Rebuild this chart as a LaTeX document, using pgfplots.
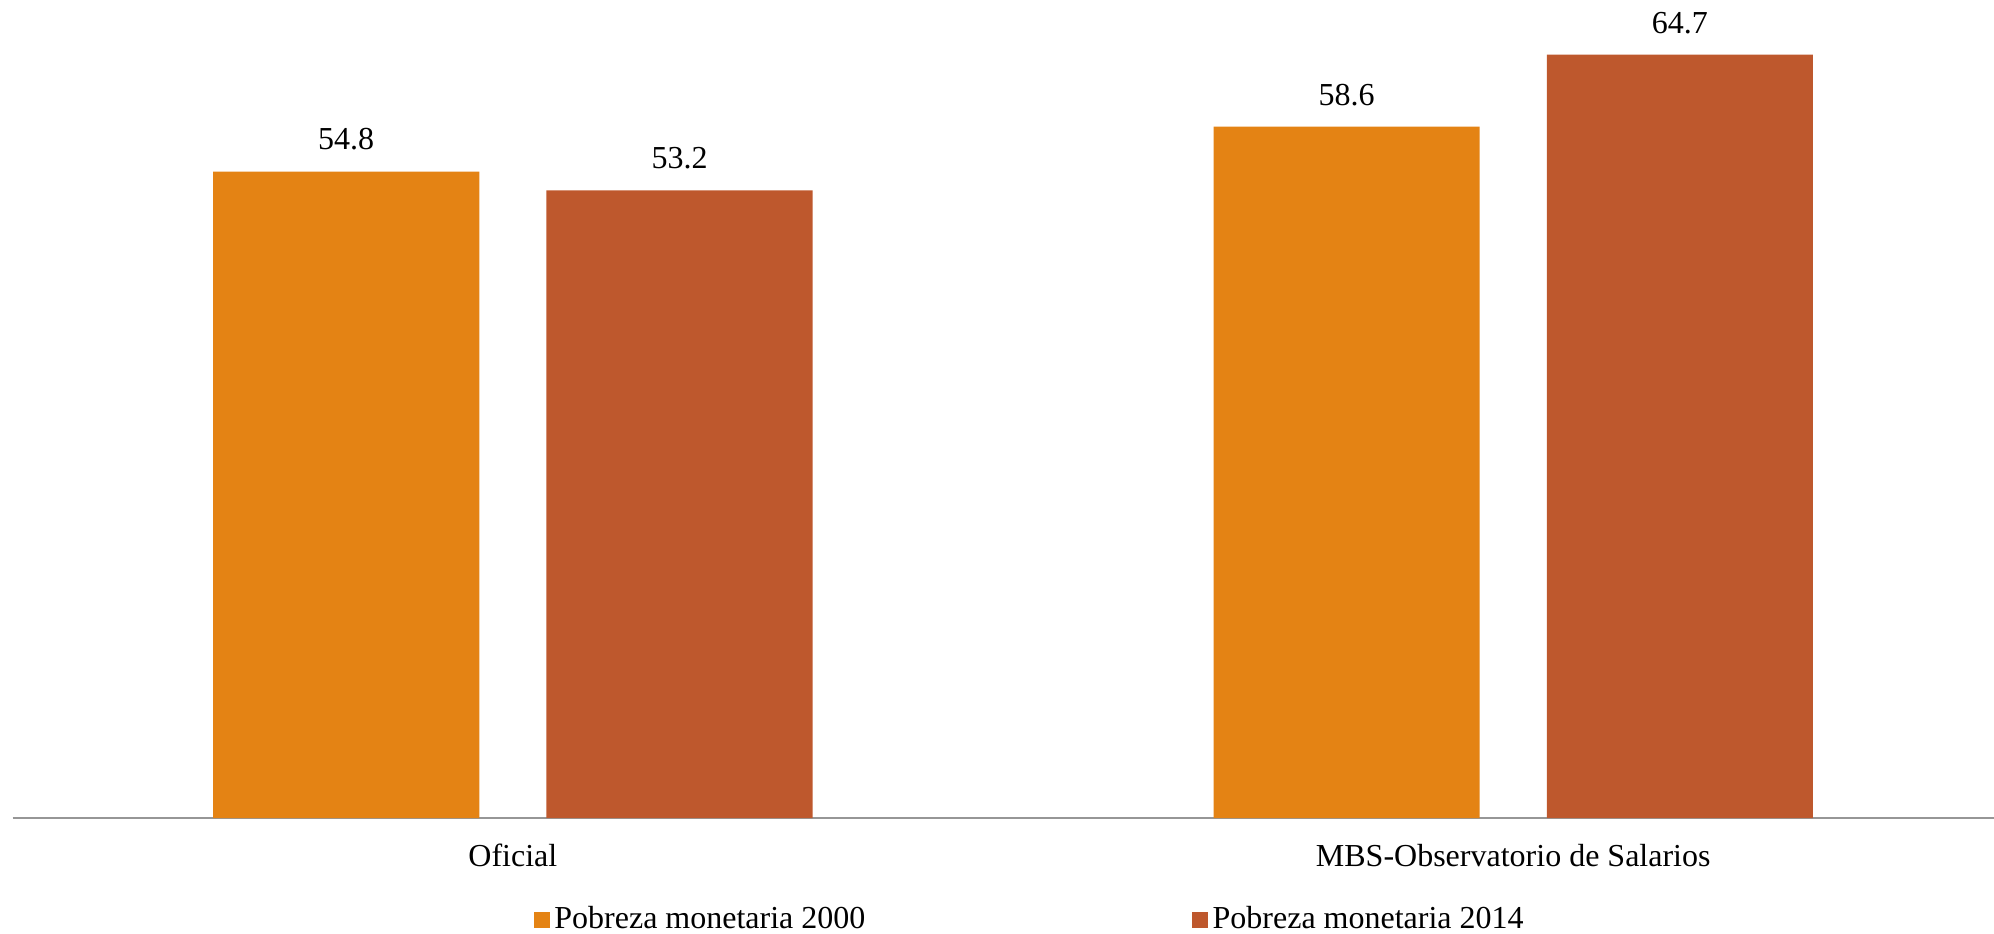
\documentclass[border=0pt]{standalone}
\usepackage{fontspec}
\setmainfont{Liberation Serif}
\usepackage{pgfplots}
\pgfplotsset{compat=1.18}
\definecolor{orA}{RGB}{228,131,20}
\definecolor{brB}{RGB}{190,88,45}
\definecolor{axg}{RGB}{150,150,150}
\begin{document}
\begin{tikzpicture}
\begin{axis}[
  scale only axis,
  width=495.3pt, height=204.5pt,
  xmin=-0.5, xmax=1.4806,
  ymin=0, ymax=69.34,
  ybar,
  axis y line=none,
  axis x line*=bottom,
  axis line style={axg, line width=0.6pt},
  xtick={0,1},
  xticklabels={Oficial, MBS-Observatorio de Salarios},
  major tick length=0pt,
  xticklabel style={anchor=center, yshift=-9.3pt, font=\fontsize{8}{9.6}\selectfont},
  ytick=\empty,
  clip=false,
  bar width=0.266,
  nodes near coords,
  nodes near coords style={anchor=center, yshift=8pt, font=\fontsize{8}{9.6}\selectfont, text=black},
  /pgf/number format/.cd, fixed, precision=1, fixed zerofill, assume math mode=true,
  /pgfplots/.cd,
  legend columns=2,
  legend style={at={(0.2631,-0.1247)}, anchor=west, draw=none, fill=none,
    inner sep=0pt, outer sep=0pt,
    font=\fontsize{8}{9.6}\selectfont,
    nodes={inner xsep=1.2pt, inner ysep=0pt},
    /tikz/every even column/.append style={column sep=80.5pt}},
  legend image code/.code={\fill[#1] (0pt,-1.9pt) rectangle (3.9pt,1.9pt);},
]
\addplot[bar shift=-0.1666, fill=orA, draw=none] coordinates {(0,54.8) (1,58.6)};
\addplot[bar shift=0.1666, fill=brB, draw=none] coordinates {(0,53.2) (1,64.7)};
\legend{Pobreza monetaria 2000, Pobreza monetaria 2014}
\end{axis}
\pgfresetboundingbox
\path[use as bounding box] (current axis.south west) ++(-3.175pt,-28.75pt) rectangle (current axis.north east);
\end{tikzpicture}
\end{document}
